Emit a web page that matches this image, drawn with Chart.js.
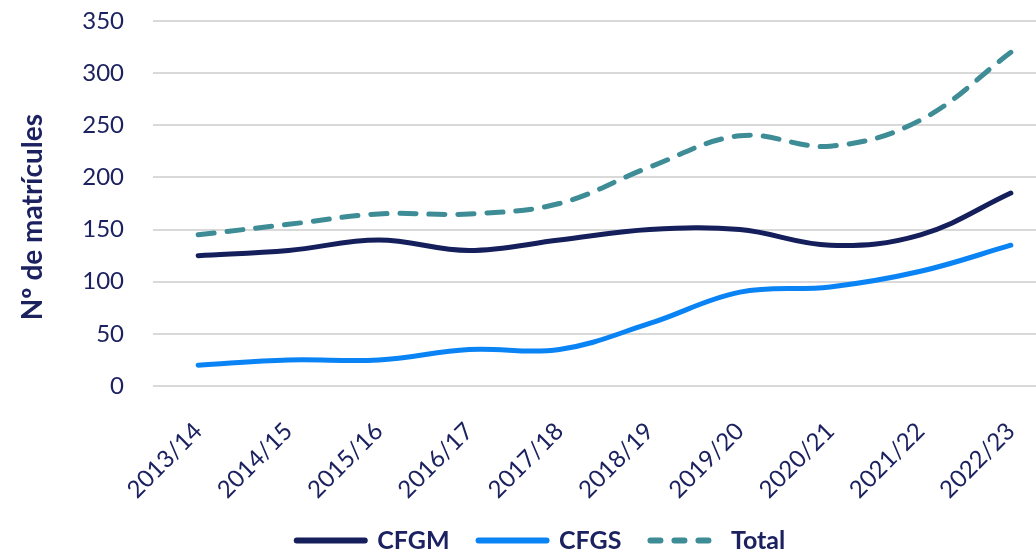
<!DOCTYPE html>
<html>
<head>
<meta charset="utf-8">
<script src="https://cdn.jsdelivr.net/npm/chart.js@4.4.1/dist/chart.umd.min.js"></script>
<style>
  html, body { margin: 0; padding: 0; background: #fff; overflow: hidden; }
</style>
</head>
<body>
<canvas id="myChart" width="1082" height="553"></canvas>
<script>
// data
const years = ['2013/14', '2014/15', '2015/16', '2016/17', '2017/18', '2018/19', '2019/20', '2020/21', '2021/22', '2022/23'];
const cfgm = [125, 130, 140, 130, 140, 150, 150, 135, 145, 185];
const cfgs = [20, 25, 25, 35, 35, 60, 90, 95, 110, 135];
const total = [145, 155, 165, 165, 175, 210, 240, 230, 255, 320];
const yTicks = [0, 50, 100, 150, 200, 250, 300, 350];

const textColor = '#1c2260';
const fontFamily = 'Lato, "Open Sans", sans-serif';

const lineDataset = (label, data, color, dash) => ({
  label: label,
  data: data,
  borderColor: color,
  backgroundColor: color,
  borderWidth: 5,
  borderDash: dash,
  borderCapStyle: 'round',
  borderJoinStyle: 'round',
  pointRadius: 0,
  tension: 0.38,
  fill: false
});

// legend shows thicker lines, dashes shorter than in the plot
const legendDash = [[], [], [10, 14]];

let config = {
  type: 'line',
  data: {
    labels: years,
    datasets: [
      lineDataset('CFGM', cfgm, '#141f5c', []),
      lineDataset('CFGS', cfgs, '#0a84f5', []),
      lineDataset('Total', total, '#3d8c96', [16, 13])
    ]
  },
  options: {
    responsive: false,
    animation: false,
    layout: {
      padding: { top: 21, right: 0, bottom: -10, left: 0 }
    },
    plugins: {
      tooltip: { enabled: false },
      legend: {
        position: 'bottom',
        labels: {
          usePointStyle: true,
          pointStyle: 'line',
          pointStyleWidth: 68,
          padding: 29,
          color: textColor,
          font: { family: fontFamily, size: 25, weight: 'bold' },
          generateLabels: (chart) => {
            let items = Chart.defaults.plugins.legend.labels.generateLabels(chart);
            items.forEach((item, i) => {
              item.lineWidth = 6;
              item.lineCap = 'round';
              item.lineDash = legendDash[i];
            });
            return items;
          }
        }
      }
    },
    scales: {
      x: {
        offset: true,
        grid: { display: false },
        border: { display: false },
        ticks: {
          color: textColor,
          font: { family: fontFamily, size: 24 },
          maxRotation: 45,
          minRotation: 45,
          padding: 23
        },
        afterFit: (scale) => {
          scale.height = 113;
          scale.paddingLeft = 0;
          scale.paddingRight = 26;
        }
      },
      y: {
        min: 0,
        max: 350,
        border: { display: false },
        grid: { color: '#d9d9d9', lineWidth: 2, drawTicks: false },
        ticks: {
          stepSize: 50,
          color: textColor,
          padding: 29,
          font: { family: fontFamily, size: 24 },
          callback: (v) => yTicks.includes(v) ? v : ''
        },
        title: {
          display: true,
          text: 'Nº de matrícules\u00a0\u00a0\u00a0\u00a0',
          color: textColor,
          padding: { top: 16, bottom: 0 },
          font: { family: fontFamily, size: 28, weight: 'bold' }
        },
        afterFit: (scale) => {
          scale.width = 153;
          scale.paddingTop = 0;
          scale.paddingBottom = 0;
        }
      }
    }
  }
};

new Chart(document.getElementById('myChart'), config);
</script>
</body>
</html>
